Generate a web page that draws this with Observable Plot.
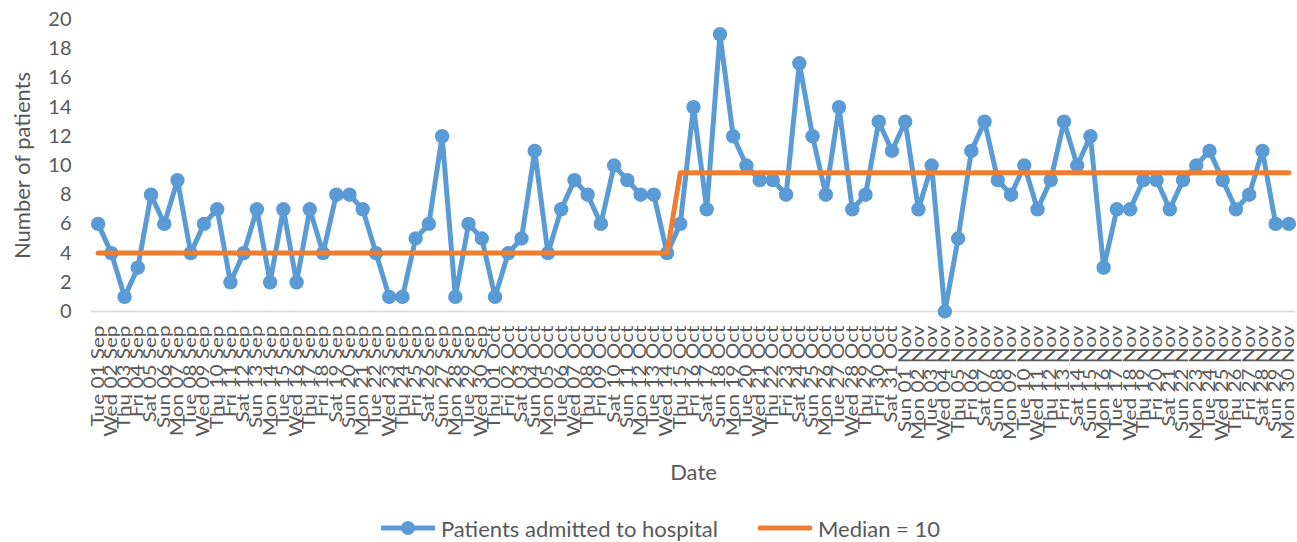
<!DOCTYPE html>
<html>
<head>
<meta charset="utf-8">
<script src="https://cdn.jsdelivr.net/npm/d3@7"></script>
<script src="https://cdn.jsdelivr.net/npm/@observablehq/plot@0.6"></script>
<style>
  html, body { margin: 0; padding: 0; background: #fff; }
  #chart { width: 1297px; }
  #legend { display: flex; justify-content: center; align-items: center; height: 36px; font-family: Lato, "Open Sans", sans-serif; font-size: 22px; color: #595959; padding-left: 24px; }
  .item { display: flex; align-items: center; margin: 0 20px; }
  .item svg { margin-right: 6px; }
</style>
</head>
<body>
<div id="chart"></div>
<div id="legend">
  <div class="item"><svg width="54" height="16"><line x1="1" y1="8" x2="53" y2="8" stroke="#5B9BD5" stroke-width="5" stroke-linecap="round"/><circle cx="27" cy="8" r="7" fill="#5B9BD5"/></svg><span>Patients admitted to hospital</span></div>
  <div class="item"><svg width="54" height="16"><line x1="2" y1="8" x2="52" y2="8" stroke="#ED7D31" stroke-width="5" stroke-linecap="round"/></svg><span>Median = 10</span></div>
</div>
<script>
const dates = [
  "Tue 01 Sep","Wed 02 Sep","Thu 03 Sep","Fri 04 Sep","Sat 05 Sep","Sun 06 Sep","Mon 07 Sep","Tue 08 Sep","Wed 09 Sep","Thu 10 Sep",
  "Fri 11 Sep","Sat 12 Sep","Sun 13 Sep","Mon 14 Sep","Tue 15 Sep","Wed 16 Sep","Thu 17 Sep","Fri 18 Sep","Sat 19 Sep","Sun 20 Sep",
  "Mon 21 Sep","Tue 22 Sep","Wed 23 Sep","Thu 24 Sep","Fri 25 Sep","Sat 26 Sep","Sun 27 Sep","Mon 28 Sep","Tue 29 Sep","Wed 30 Sep",
  "Thu 01 Oct","Fri 02 Oct","Sat 03 Oct","Sun 04 Oct","Mon 05 Oct","Tue 06 Oct","Wed 07 Oct","Thu 08 Oct","Fri 09 Oct","Sat 10 Oct",
  "Sun 11 Oct","Mon 12 Oct","Tue 13 Oct","Wed 14 Oct","Thu 15 Oct","Fri 16 Oct","Sat 17 Oct","Sun 18 Oct","Mon 19 Oct","Tue 20 Oct",
  "Wed 21 Oct","Thu 22 Oct","Fri 23 Oct","Sat 24 Oct","Sun 25 Oct","Mon 26 Oct","Tue 27 Oct","Wed 28 Oct","Thu 29 Oct","Fri 30 Oct",
  "Sat 31 Oct","Sun 01 Nov","Mon 02 Nov","Tue 03 Nov","Wed 04 Nov","Thu 05 Nov","Fri 06 Nov","Sat 07 Nov","Sun 08 Nov","Mon 09 Nov",
  "Tue 10 Nov","Wed 11 Nov","Thu 12 Nov","Fri 13 Nov","Sat 14 Nov","Sun 15 Nov","Mon 16 Nov","Tue 17 Nov","Wed 18 Nov","Thu 19 Nov",
  "Fri 20 Nov","Sat 21 Nov","Sun 22 Nov","Mon 23 Nov","Tue 24 Nov","Wed 25 Nov","Thu 26 Nov","Fri 27 Nov","Sat 28 Nov","Sun 29 Nov",
  "Mon 30 Nov"
];
const patients = [
  6,4,1,3,8,6,9,4,6,7,
  2,4,7,2,7,2,7,4,8,8,
  7,4,1,1,5,6,12,1,6,5,
  1,4,5,11,4,7,9,8,6,10,
  9,8,8,4,6,14,7,19,12,10,
  9,9,8,17,12,8,14,7,8,13,
  11,13,7,10,0,5,11,13,9,8,
  10,7,9,13,10,12,3,7,7,9,
  9,7,9,10,11,9,7,8,11,6,
  6
];
const median = [
  4,4,4,4,4,4,4,4,4,4,
  4,4,4,4,4,4,4,4,4,4,
  4,4,4,4,4,4,4,4,4,4,
  4,4,4,4,4,4,4,4,4,4,
  4,4,4,4,9.5,9.5,9.5,9.5,9.5,9.5,
  9.5,9.5,9.5,9.5,9.5,9.5,9.5,9.5,9.5,9.5,
  9.5,9.5,9.5,9.5,9.5,9.5,9.5,9.5,9.5,9.5,
  9.5,9.5,9.5,9.5,9.5,9.5,9.5,9.5,9.5,9.5,
  9.5,9.5,9.5,9.5,9.5,9.5,9.5,9.5,9.5,9.5,
  9.5
];
const yTicks = [0,2,4,6,8,10,12,14,16,18,20];
const yTitle = "Number of patients";
const xTitle = "Date";

const data = dates.map((d, i) => ({i, date: d, patients: patients[i], median: median[i]}));

const chart = Plot.plot({
  width: 1297,
  height: 510,
  marginTop: 19,
  marginBottom: 199,
  marginLeft: 91,
  marginRight: 2,
  style: {fontFamily: "Lato, 'Open Sans', sans-serif", color: "#595959", background: "#fff", overflow: "visible"},
  x: {type: "linear", domain: [-0.5, dates.length - 0.5], axis: null},
  y: {domain: [0, 20], axis: null},
  marks: [
    Plot.ruleY([0], {stroke: "#d9d9d9", strokeWidth: 1.5}),
    Plot.axisY({ticks: yTicks, tickSize: 0, tickPadding: 20, label: null, fontSize: 20, fill: "#595959"}),
    Plot.axisX({ticks: data.map(d => d.i), tickFormat: i => dates[i], tickRotate: -90, tickSize: 0, tickPadding: 14, label: null, fontSize: 17, fill: "#595959"}),
    Plot.text([yTitle], {frameAnchor: "left", dx: -69, rotate: -90, textAnchor: "middle", lineAnchor: "middle", fontSize: 22, fill: "#595959"}),
    Plot.text([xTitle], {frameAnchor: "bottom", dy: 161, textAnchor: "middle", lineAnchor: "middle", fontSize: 22, fill: "#595959"}),
    Plot.line(data, {x: "i", y: "patients", stroke: "#5B9BD5", strokeWidth: 5}),
    Plot.dot(data, {x: "i", y: "patients", r: 7.2, fill: "#5B9BD5", stroke: "none"}),
    Plot.line(data, {x: "i", y: "median", stroke: "#ED7D31", strokeWidth: 5})
  ]
});
// stretch the rotated date labels along their length, as in the reference
d3.select(chart).selectAll("g[aria-label='x-axis tick label'] text").each(function() {
  const t = this.getAttribute("transform") || "";
  this.setAttribute("transform", t + " scale(1.22,1)");
});
document.getElementById("chart").appendChild(chart);
</script>
</body>
</html>
